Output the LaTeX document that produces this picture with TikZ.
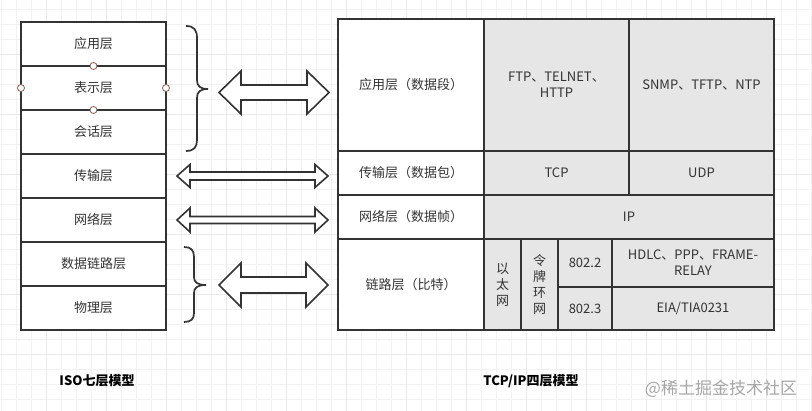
\documentclass[tikz,border=0pt]{standalone}
\usepackage{fontspec}
\setmainfont{Noto Sans CJK SC}
\definecolor{linec}{HTML}{333333}
\definecolor{cellgray}{HTML}{E6E6E6}
\definecolor{handlec}{HTML}{8C5A5A}
\tikzset{
  layer/.style={draw=linec, line width=1.7pt, fill=white, text=linec, minimum width=145pt, minimum height=44pt, inner sep=0pt, outer sep=0pt, align=center, font=\fontsize{13}{16}\selectfont},
  proto/.style={layer, fill=cellgray},
  fatarrow/.style={draw=linec, line width=1.6pt, fill=white, line join=miter},
  curly/.style={draw=linec, line width=1.7pt},
  handle/.style={draw=handlec, fill=white, line width=0.8pt},
  gridminor/.style={draw=gray!10, line width=0.6pt},
  gridmajor/.style={draw=gray!17, line width=0.6pt},
  title/.style={text=black, font=\bfseries\fontsize{13}{16}\selectfont},
}
\begin{document}
\begin{tikzpicture}[x=1pt, y=-1pt]
		\useasboundingbox (0,0) rectangle (812,411);

		% background grid
		\begin{scope}
		\clip (0,0) rectangle (812,411);
		\begin{scope}[shift={(1.7,9)}]
		\draw[gridminor, step=15pt] (-30,-30) grid (840,420);
		\end{scope}
		\begin{scope}[shift={(46.7,54)}]
		\draw[gridmajor, step=60pt] (-60,-60) grid (840,420);
		\end{scope}
		\end{scope}

		% ISO seven layers
		\node[layer] (app) at (93.5,44) {应用层};
		\node[layer] (pres) at (93.5,88) {表示层};
		\node[layer] (sess) at (93.5,132) {会话层};
		\node[layer] (trans) at (93.5,176) {传输层};
		\node[layer] (net) at (93.5,220) {网络层};
		\node[layer] (link) at (93.5,264) {数据链路层};
		\node[layer] (phys) at (93.5,308) {物理层};

		% TCP/IP four layers
		\node[layer, minimum width=146pt, minimum height=132pt] (tapp) at (411,85) {应用层（数据段）};
		\node[proto, minimum height=132pt] (ftp) at (556.5,85) {FTP、TELNET、\\HTTP};
		\node[proto, minimum height=132pt] (snmp) at (701.5,85) {SNMP、TFTP、NTP};

		\node[layer, minimum width=146pt] (ttrans) at (411,173) {传输层（数据包）};
		\node[proto] (tcp) at (556.5,173) {TCP};
		\node[proto] (udp) at (701.5,173) {UDP};

		\node[layer, minimum width=146pt] (tnet) at (411,217) {网络层（数据帧）};
		\node[proto, minimum width=290pt] (ip) at (629,217) {IP};

		\node[layer, minimum width=146pt, minimum height=91pt] (tlink) at (411,284.5) {链路层（比特）};
		\node[proto, minimum width=37pt, minimum height=91pt] (ether) at (502.5,284.5) {以\\太\\网};
		\node[proto, minimum width=37pt, minimum height=91pt] (token) at (539.5,284.5) {令\\牌\\环\\网};
		\node[proto, minimum width=54pt, minimum height=48pt] (ieeetwo) at (585,263) {802.2};
		\node[proto, minimum width=54pt, minimum height=43pt] (ieeethree) at (585,308.5) {802.3};
		\node[proto, minimum width=162pt, minimum height=48pt] (hdlc) at (693,263) {HDLC、PPP、FRAME-\\RELAY};
		\node[proto, minimum width=162pt, minimum height=43pt] (eia) at (693,308.5) {EIA/TIA0231};

		% brace upper three layers
		\draw[curly] (186,26) .. controls (194,26) and (197,30) .. (197,38) -- (197,80)
			.. controls (197,86) and (200,89) .. (208,89)
			.. controls (200,89) and (197,92) .. (197,98) -- (197,140)
			.. controls (197,147) and (194,151) .. (186,151);

		% brace lower two layers
		\draw[curly] (184,247) .. controls (191,247) and (194,250) .. (194,257) -- (194,277)
			.. controls (194,282) and (197,285) .. (206,285)
			.. controls (197,285) and (194,288) .. (194,293) -- (194,313)
			.. controls (194,319) and (191,322) .. (184,322);

		% double arrows
		\draw[fatarrow] (219,92.5) -- (241,71) -- (241,85) -- (307,85) -- (307,71) -- (329,92.5)
			-- (307,114) -- (307,100) -- (241,100) -- (241,114) -- cycle;
		\draw[fatarrow] (177,176) -- (190,164.5) -- (190,172) -- (315,172) -- (315,164.5) -- (328,176)
			-- (315,187.5) -- (315,180) -- (190,180) -- (190,187.5) -- cycle;
		\draw[fatarrow] (177,220) -- (190,208) -- (190,216.5) -- (315,216.5) -- (315,208) -- (328,220)
			-- (315,232) -- (315,223.5) -- (190,223.5) -- (190,232) -- cycle;
		\draw[fatarrow] (219,285) -- (241,263) -- (241,277) -- (306,277) -- (306,263) -- (328,285)
			-- (306,307) -- (306,293) -- (241,293) -- (241,307) -- cycle;

		% selection handles
		\draw[handle] (app.south) circle (3.5pt);
		\draw[handle] (pres.south) circle (3.5pt);
		\draw[handle] (pres.west) circle (3.5pt);
		\draw[handle] (pres.east) circle (3.5pt);

		% titles
		\node[title] (isotitle) at (97,381) {ISO七层模型};
		\node[title] (tcptitle) at (531,381) {TCP/IP四层模型};
		\node[text=black!35, font=\fontsize{17}{20}\selectfont] (mark) at (721,389) {@稀土掘金技术社区};

	\end{tikzpicture}
\end{document}
